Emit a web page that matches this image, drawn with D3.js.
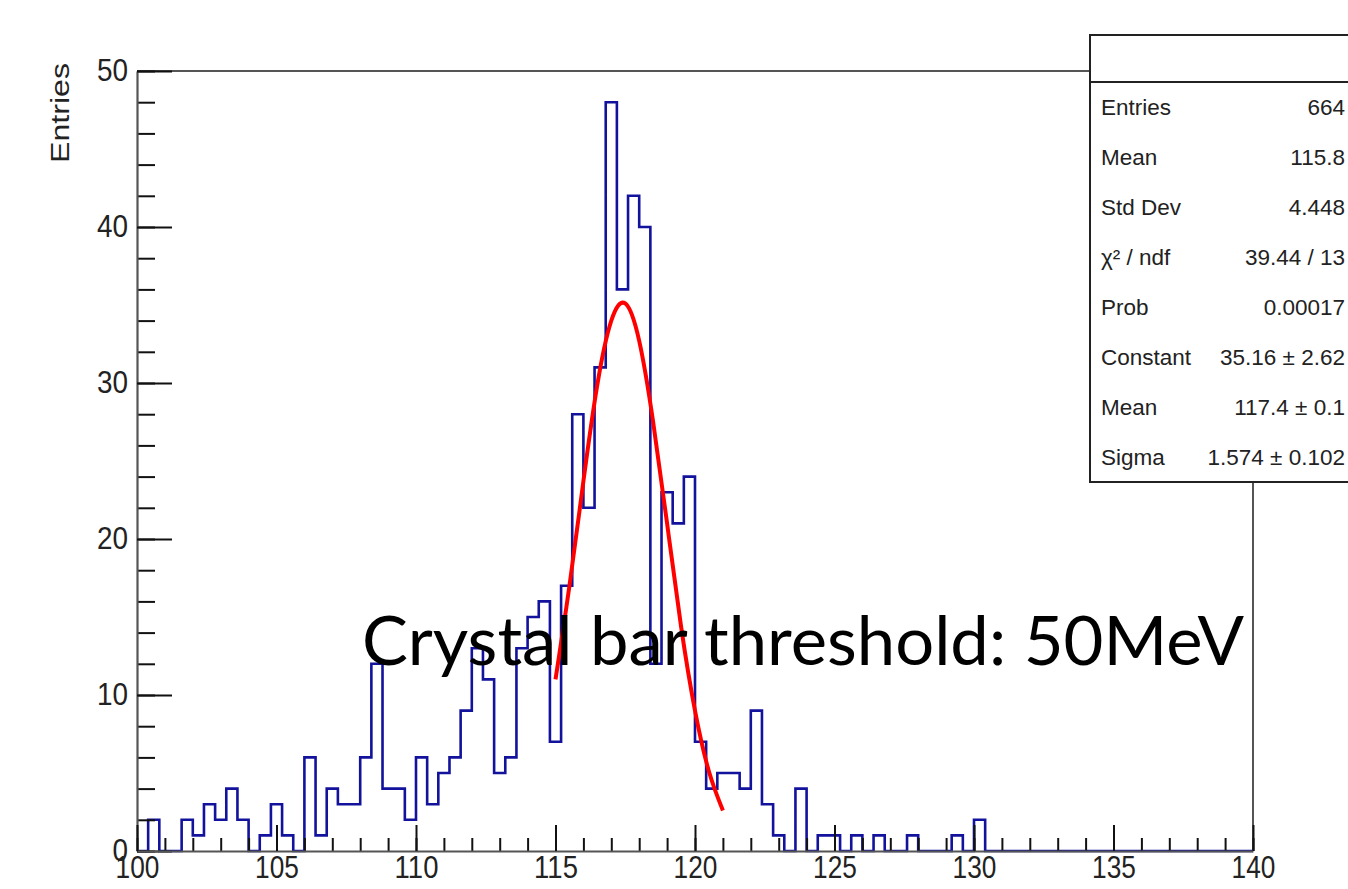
<!DOCTYPE html>
<html><head><meta charset="utf-8">
<script src="https://cdn.jsdelivr.net/npm/d3@7"></script>
<style>html,body{margin:0;padding:0;background:#fff;overflow:hidden}</style>
</head><body>
<svg id="c" width="1348" height="889"></svg>
<script>
// ---- data ----
const binLow = 100, binHigh = 140, binWidth = 0.4;
const binCounts = [
  0, 2, 0, 0, 2, 1, 3, 2, 4, 2,
  0, 1, 3, 1, 0, 6, 1, 4, 3, 3,
  6,12, 4, 4, 2, 6, 3, 5, 6, 9,
 13,11, 5, 6,13,15,16, 7,17,28,
 22,31,48,36,42,40,12,23,21,24,
  7, 4, 5, 5, 4, 9, 3, 1, 0, 4,
  0, 1, 1, 0, 1, 0, 1, 0, 0, 1,
  0, 0, 0, 1, 0, 2, 0, 0, 0, 0,
  0, 0, 0, 0, 0, 0, 0, 0, 0, 0,
  0, 0, 0, 0, 0, 0, 0, 0, 0, 0
];
const fitX = [115.0,115.5,116.0,116.5,117.0,117.5,118.0,118.5,119.0,119.5,120.0,120.5,121.0];
const fitY = [11.0, 17.0, 23.7, 29.9, 34.0, 35.1, 32.7, 27.5, 21.0, 14.4, 9.0, 5.1, 2.6];
const xTicks = [100,105,110,115,120,125,130,135,140];
const xMinorTicks = d3.range(100,141,1);
const yTicks = [0,10,20,30,40,50];
const yMinorTicks = d3.range(0,51,2);
const yTitle = "Entries";
const statLabels = ["Entries","Mean","Std Dev","χ² / ndf","Prob","Constant","Mean","Sigma"];
const statValues = ["664","115.8","4.448","39.44 / 13","0.00017","35.16 ± 2.62","117.4 ± 0.1","1.574 ± 0.102"];
const annotation = "Crystal bar threshold: 50MeV";

// ---- layout ----
const svg = d3.select("#c");
const L = 137, R = 1253, T = 71, B = 851;
const x = d3.scaleLinear([binLow, binHigh], [L, R]);
const y = d3.scaleLinear([0, 50], [B, T]);

// frame (top & right)
svg.append("path")
  .attr("d", `M${L},${T}H${R}V${B}`)
  .attr("fill","none").attr("stroke","#555").attr("stroke-width",2);

// histogram outline
const pts = [[x(binLow), y(0)]];
binCounts.forEach((c,i) => {
  const lo = binLow + i*binWidth, hi = lo + binWidth;
  pts.push([x(lo), y(c)], [x(hi), y(c)]);
});
pts.push([x(binHigh), y(0)]);
svg.append("path")
  .attr("d", d3.line()(pts))
  .attr("fill","none").attr("stroke","#12129c").attr("stroke-width",2.6)
  .attr("stroke-linejoin","miter");

// fit curve
svg.append("path")
  .attr("d", d3.line().x((d,i)=>x(fitX[i])).y(d=>y(d)).curve(d3.curveNatural)(fitY))
  .attr("fill","none").attr("stroke","#ff0000").attr("stroke-width",4);

// axes
function styleAxis(g, minor){
  g.select(".domain").attr("stroke", minor ? "none" : "#555").attr("stroke-width",2.2);
  g.selectAll(".tick line").attr("stroke","#111").attr("stroke-width",2);
}
const gyMinor = svg.append("g").attr("transform",`translate(${L},0)`)
  .call(d3.axisLeft(y).tickValues(yMinorTicks).tickSize(-18).tickSizeOuter(0).tickFormat(""));
styleAxis(gyMinor, true);
const gxMinor = svg.append("g").attr("transform",`translate(0,${B})`)
  .call(d3.axisBottom(x).tickValues(xMinorTicks).tickSize(-13).tickSizeOuter(0).tickFormat(""));
styleAxis(gxMinor, true);

const gy = svg.append("g").attr("transform",`translate(${L},0)`)
  .call(d3.axisLeft(y).tickValues(yTicks).tickSize(-35).tickSizeOuter(0).tickPadding(9).tickFormat(d3.format("d")));
styleAxis(gy, false);
gy.selectAll(".tick text")
  .attr("font-family","'Liberation Sans', Arial, sans-serif").attr("font-size",31).attr("fill","#222")
  .each(function(d){ const s=String(d); d3.select(this).attr("textLength", s.length*15.5).attr("lengthAdjust","spacingAndGlyphs"); });

const gx = svg.append("g").attr("transform",`translate(0,${B})`)
  .call(d3.axisBottom(x).tickValues(xTicks).tickSize(-26).tickSizeOuter(0).tickPadding(4).tickFormat(d3.format("d")));
styleAxis(gx, false);
gx.selectAll(".tick text")
  .attr("font-family","'Liberation Sans', Arial, sans-serif").attr("font-size",32).attr("fill","#222")
  .each(function(d){ const s=String(d); d3.select(this).attr("textLength", s.length*14.6).attr("lengthAdjust","spacingAndGlyphs"); });

// y title
svg.append("text")
  .attr("transform","translate(69,63) rotate(-90)")
  .attr("text-anchor","end")
  .attr("font-family","'Liberation Sans', Arial, sans-serif").attr("font-size",25).attr("fill","#222")
  .attr("textLength",100).attr("lengthAdjust","spacingAndGlyphs")
  .text(yTitle);

// annotation
svg.append("text")
  .attr("x",362).attr("y",665)
  .attr("font-family","Lato, 'Open Sans', sans-serif").attr("font-size",67).attr("fill","#000")
  .attr("textLength",882).attr("lengthAdjust","spacingAndGlyphs")
  .text(annotation);

// stats box
const sb = svg.append("g");
sb.append("rect").attr("x",1090).attr("y",35).attr("width",300).attr("height",447)
  .attr("fill","#fff").attr("stroke","#222").attr("stroke-width",2);
sb.append("line").attr("x1",1090).attr("x2",1390).attr("y1",82).attr("y2",82)
  .attr("stroke","#222").attr("stroke-width",2);
statLabels.forEach((s,i)=>{
  const cy = 107 + i*50;
  sb.append("text").attr("x",1101).attr("y",cy+8)
    .attr("font-family","'Liberation Sans', Arial, sans-serif").attr("font-size",22.5).attr("fill","#222")
    .text(s);
  sb.append("text").attr("x",1345).attr("y",cy+8).attr("text-anchor","end")
    .attr("font-family","'Liberation Sans', Arial, sans-serif").attr("font-size",22.5).attr("fill","#222")
    .text(statValues[i]);
});
</script>
</body></html>
